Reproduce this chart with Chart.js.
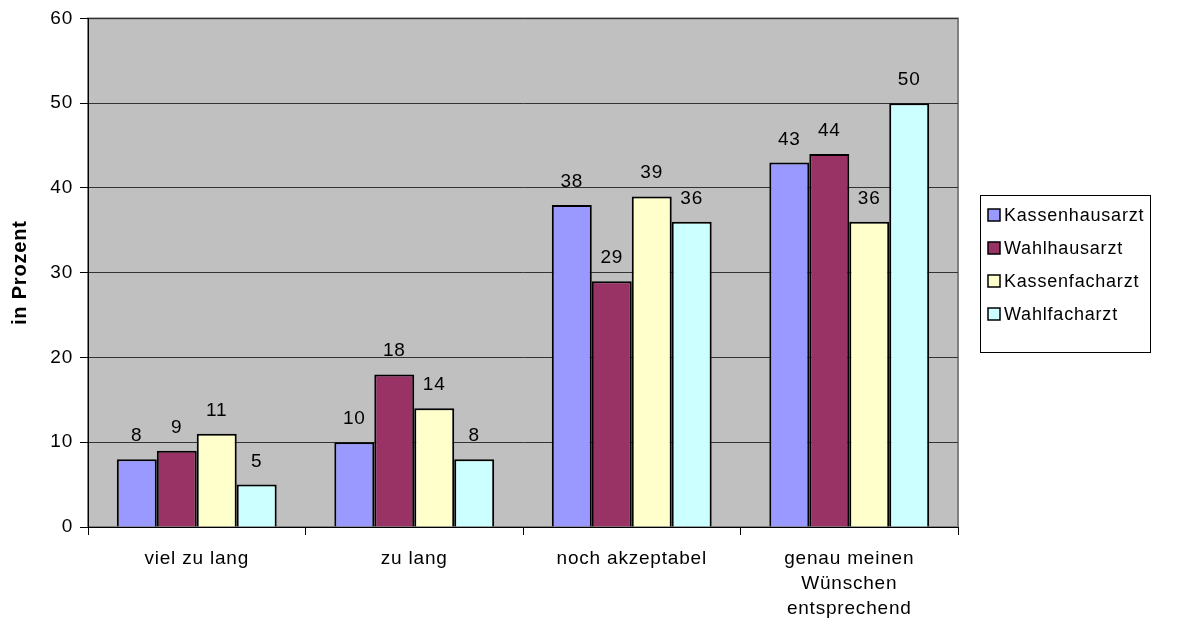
<!DOCTYPE html>
<html><head><meta charset="utf-8">
<script src="https://cdn.jsdelivr.net/npm/chart.js@4/dist/chart.umd.min.js"></script>
<style>html,body{margin:0;padding:0;background:#fff}#wrap{width:1180px;height:634px}</style>
</head><body><div id="wrap"><canvas id="c" width="1180" height="634"></canvas></div>
<script>
const categories = ["viel zu lang", "zu lang", "noch akzeptabel", ["genau meinen", "Wünschen", "entsprechend"]];
const seriesNames = ["Kassenhausarzt", "Wahlhausarzt", "Kassenfacharzt", "Wahlfacharzt"];
const kassenhausarzt = [8, 10, 38, 43];
const wahlhausarzt = [9, 18, 29, 44];
const kassenfacharzt = [11, 14, 39, 36];
const wahlfacharzt = [5, 8, 36, 50];
const seriesColors = ["#9999FF", "#993366", "#FFFFCC", "#CCFFFF"];
const yTitle = "in Prozent";
const FONT = "'Liberation Sans', Arial, sans-serif";

const values = [kassenhausarzt, wahlhausarzt, kassenfacharzt, wahlfacharzt];

const bgPlugin = {
  id: 'bg',
  beforeDraw(chart) {
    const {ctx, chartArea: a} = chart;
    ctx.save();
    ctx.fillStyle = '#C0C0C0';
    ctx.fillRect(a.left, a.top, a.right - a.left, a.bottom - a.top);
    ctx.strokeStyle = '#808080';
    ctx.lineWidth = 2;
    ctx.strokeRect(a.left, a.top, a.right - a.left, a.bottom - a.top);
    ctx.restore();
    if ('letterSpacing' in ctx) ctx.letterSpacing = '0.8px';
  }
};
const labelPlugin = {
  id: 'vlabels',
  afterDatasetsDraw(chart) {
    const ctx = chart.ctx;
    ctx.save();
    ctx.font = "19px " + FONT;
    ctx.fillStyle = '#000';
    ctx.textAlign = 'center';
    ctx.textBaseline = 'alphabetic';
    chart.data.datasets.forEach((ds, i) => {
      chart.getDatasetMeta(i).data.forEach((el, j) => {
        ctx.fillText(String(ds.data[j]), el.x, el.y - 18);
      });
    });
    ctx.restore();
  }
};
const legendPlugin = {
  id: 'boxlegend',
  afterDraw(chart) {
    const ctx = chart.ctx;
    const x0 = 980, y0 = 195, w = 170, h = 157;
    ctx.save();
    ctx.fillStyle = '#fff';
    ctx.fillRect(x0, y0, w, h);
    ctx.strokeStyle = '#000';
    ctx.lineWidth = 1;
    ctx.strokeRect(x0 + 0.5, y0 + 0.5, w, h);
    ctx.font = "18px " + FONT;
    ctx.textBaseline = 'middle';
    ctx.textAlign = 'left';
    chart.data.datasets.forEach((ds, i) => {
      const cy = y0 + 20 + i * 33;
      ctx.fillStyle = ds.backgroundColor;
      ctx.fillRect(988, cy - 6, 12, 12);
      ctx.strokeStyle = '#000';
      ctx.lineWidth = 1.5;
      ctx.strokeRect(988, cy - 6, 12, 12);
      ctx.fillStyle = '#000';
      ctx.fillText(ds.label, 1004, cy + 1);
    });
    ctx.restore();
  }
};

new Chart(document.getElementById('c'), {
  type: 'bar',
  data: {
    labels: categories,
    datasets: seriesNames.map((n, i) => ({
      label: n,
      data: values[i],
      backgroundColor: seriesColors[i],
      borderColor: '#000',
      borderWidth: 2,
      categoryPercentage: 0.735,
      barPercentage: 1.0
    }))
  },
  options: {
    responsive: false,
    animation: false,
    devicePixelRatio: 1,
    layout: {padding: {left: 0, top: 17, right: 222, bottom: 0}},
    plugins: {legend: {display: false}, tooltip: {enabled: false}},
    scales: {
      x: {
        afterFit(s) { s.height = 107; },
        grid: {offset: true, drawOnChartArea: false, color: '#000', tickLength: 8, lineWidth: 1},
        border: {color: '#000', width: 1},
        ticks: {color: '#000', font: {family: FONT, size: 19, lineHeight: 1.32}, padding: 11, maxRotation: 0, autoSkip: false}
      },
      y: {
        min: 0, max: 60,
        afterFit(s) { s.width = 88; },
        grid: {color: '#333', tickColor: '#000', tickLength: 8, lineWidth: 1},
        border: {color: '#000', width: 1},
        ticks: {stepSize: 10, color: '#000', font: {family: FONT, size: 19}, padding: 7},
        title: {display: true, text: yTitle, color: '#000', font: {family: FONT, size: 20, weight: 'bold'}, padding: {top: 8, bottom: 0}}
      }
    }
  },
  plugins: [bgPlugin, labelPlugin, legendPlugin]
});
</script></body></html>
